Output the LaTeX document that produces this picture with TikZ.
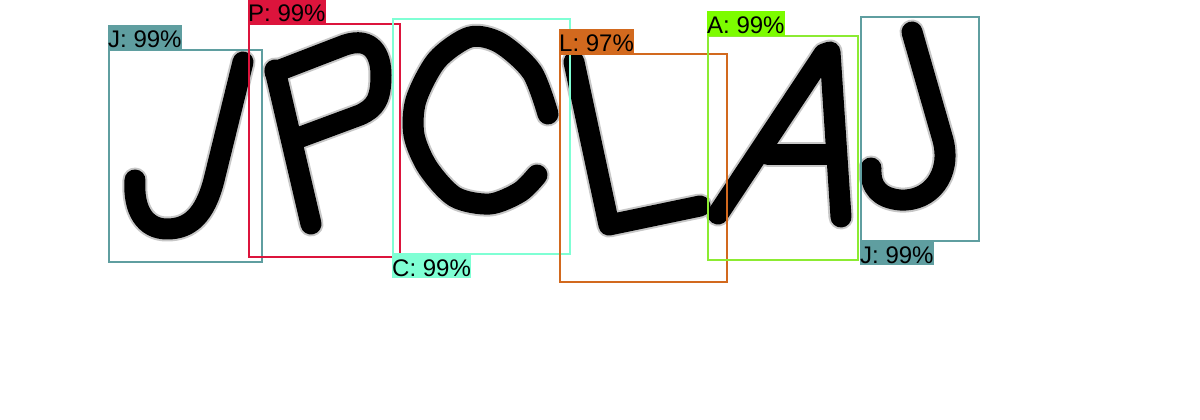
\documentclass[tikz,border=0pt]{standalone}
\usepackage{fontspec}
\setmainfont{Liberation Sans}
\definecolor{cJ}{RGB}{95,158,160}
\definecolor{cP}{RGB}{220,20,60}
\definecolor{cC}{RGB}{127,255,212}
\definecolor{cL}{RGB}{210,105,30}
\definecolor{cA}{RGB}{124,252,0}
\definecolor{cAbox}{RGB}{140,235,50}
\tikzset{
  halo/.style={line width=25pt, line cap=round, line join=round, black!22},
  ink/.style={line width=21pt, line cap=round, line join=round, black},
  detbox/.style={line width=2pt},
  lab/.style={inner sep=0pt, text height=23pt, text depth=2pt, font=\fontsize{24pt}{28pt}\selectfont, text=black},
}
\newcommand\letterpaths[1]{%
\draw[#1] (243,62) -- (214,180) .. controls (205,215) and (190,229) .. (167,229) .. controls (145,229) and (133,210) .. (135,180);
\draw[#1] (275,70) -- (311,224);
\draw[#1] (275,72) -- (345,45) .. controls (372,36) and (381,55) .. (381,75) .. controls (381,100) and (375,108) .. (360,115) -- (298,138);
\draw[#1] plot[smooth] coordinates {(548,114) (532,72) (500,43) (470,37) (437,60) (416,100) (414,135) (428,168) (455,197) (490,204) (520,192) (537,175)};
\draw[#1] (574,62) -- (609,225) -- (700,206);
\draw[#1] (718,214) -- (824,54) -- (830,52) -- (841,217);
\draw[#1] (768,154) -- (834,154);
\draw[#1] (912,32) -- (943,140) .. controls (952,175) and (930,202) .. (900,200) .. controls (880,198) and (870,188) .. (871,168);
}
\begin{document}
\begin{tikzpicture}[x=1pt,y=-1pt]
\useasboundingbox (0,0) rectangle (1200,420);
\clip (0,0) rectangle (1200,420);
\fill[white] (0,0) rectangle (1200,420);
% letters
\letterpaths{halo}
\letterpaths{ink}
% boxes and labels
\draw[detbox, cJ] (109,50) rectangle (262,262);
\node[lab, fill=cJ, anchor=south west] (lJ1) at (108,50) {J: 99\%};
\draw[detbox, cP] (249,24) rectangle (400,257);
\node[lab, fill=cP, anchor=south west] (lP) at (248,24) {P: 99\%};
\draw[detbox, cC] (393,19) rectangle (570,254);
\node[lab, fill=cC, anchor=north west] (lC) at (392,253) {C: 99\%};
\draw[detbox, cL] (560,54) rectangle (727,282);
\node[lab, fill=cL, anchor=south west] (lL) at (559,54) {L: 97\%};
\draw[detbox, cAbox] (708,36) rectangle (858,260);
\node[lab, fill=cA, anchor=south west] (lA) at (707,36) {A: 99\%};
\draw[detbox, cJ] (861,17) rectangle (979,241);
\node[lab, fill=cJ, anchor=north west] (lJ2) at (860,240) {J: 99\%};
\end{tikzpicture}
\end{document}
